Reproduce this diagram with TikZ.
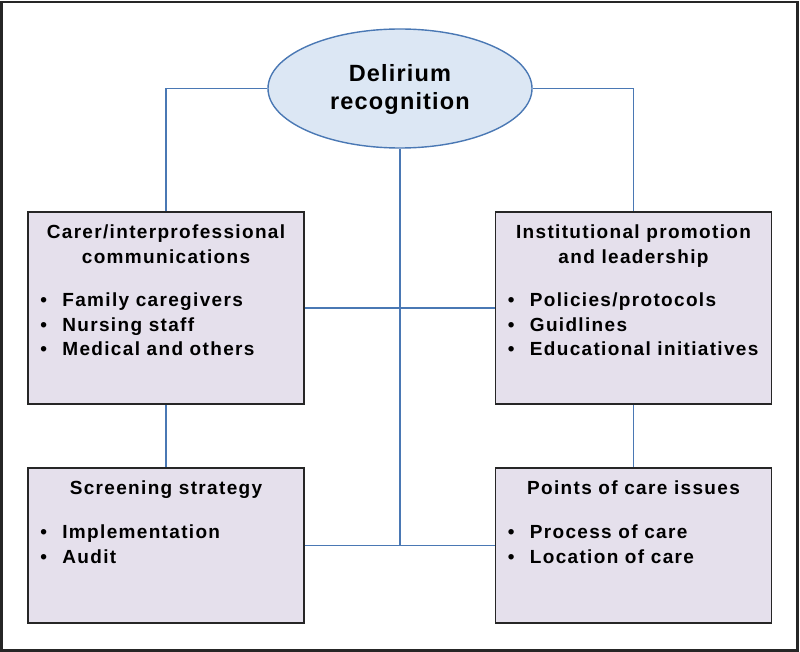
\documentclass[tikz,border=0pt]{standalone}
\usepackage{fontspec}
\setmainfont{Liberation Sans}
\newfontfamily\boxfont{Liberation Sans}[LetterSpace=7]
\newfontfamily\ovalfont{Liberation Sans}[LetterSpace=5]
\usetikzlibrary{positioning,shapes.geometric}

\definecolor{linkblue}{HTML}{4A78B4}
\definecolor{ovalfill}{HTML}{DCE7F4}
\definecolor{boxfill}{HTML}{E5E0EC}
\definecolor{boxline}{HTML}{262626}

\tikzset{
  box/.style={draw=boxline, line width=1.6pt, fill=boxfill, inner sep=0pt},
  bigbox/.style={box, minimum width=276pt, minimum height=192pt},
  smallbox/.style={box, minimum width=276pt, minimum height=155pt},
  oval/.style={ellipse, draw=linkblue, line width=1.4pt, fill=ovalfill, minimum width=264pt, minimum height=119pt, inner sep=0pt},
  link/.style={draw=linkblue, line width=1.5pt},
  title/.style={anchor=north, align=center, inner sep=0pt, font=\boxfont\bfseries\fontsize{19}{24.5}\selectfont},
  list/.style={anchor=north west, align=left, inner sep=0pt, font=\boxfont\bfseries\fontsize{19}{24.5}\selectfont}
}

\newcommand{\pt}{\makebox[22pt][l]{\textbullet}}

\begin{document}
\begin{tikzpicture}[x=1pt, y=-1pt]
  \useasboundingbox (0,0) rectangle (800,652);
  \draw[line width=2.6pt, draw=boxline] (1.5,2) rectangle (797.5,650.5);

  \node[oval] (oval) at (400,88.5) {};
  \node[anchor=base, inner sep=0pt, align=center, font=\ovalfont\bfseries\fontsize{23.5}{28}\selectfont] (ovaltext) at (400,110) {Delirium\\recognition};

  \node[bigbox] (tl) at (166,308) {};
  \node[bigbox] (tr) at (633.5,308) {};
  \node[smallbox] (bl) at (166,545.5) {};
  \node[smallbox] (br) at (633.5,545.5) {};

  \node[title, below=13.4pt of tl.north] (tltitle) {Carer/interprofessional\\communications};
  \node[list, below right=81.4pt and 13pt of tl.north west] (tllist) {\pt Family caregivers\\\pt Nursing staff\\\pt Medical and others};

  \node[title, below=13.4pt of tr.north] (trtitle) {Institutional promotion\\and leadership};
  \node[list, below right=81.4pt and 13pt of tr.north west] (trlist) {\pt Policies/protocols\\\pt Guidlines\\\pt Educational initiatives};

  \node[title, below=13.4pt of bl.north] (bltitle) {Screening strategy};
  \node[list, below right=57.4pt and 13pt of bl.north west] (bllist) {\pt Implementation\\\pt Audit};

  \node[title, below=13.4pt of br.north] (brtitle) {Points of care issues};
  \node[list, below right=57.4pt and 13pt of br.north west] (brlist) {\pt Process of care\\\pt Location of care};

  \coordinate (hub) at (oval.south |- bl.east);
  \draw[link] (oval.west) -| (tl.north);
  \draw[link] (oval.east) -| (tr.north);
  \draw[link] (oval.south) -- (hub);
  \draw[link] (tl.east) -- (tr.west);
  \draw[link] (bl.east) -- (br.west);
  \draw[link] (tl.south) -- (bl.north);
  \draw[link] (tr.south) -- (br.north);
\end{tikzpicture}
\end{document}
